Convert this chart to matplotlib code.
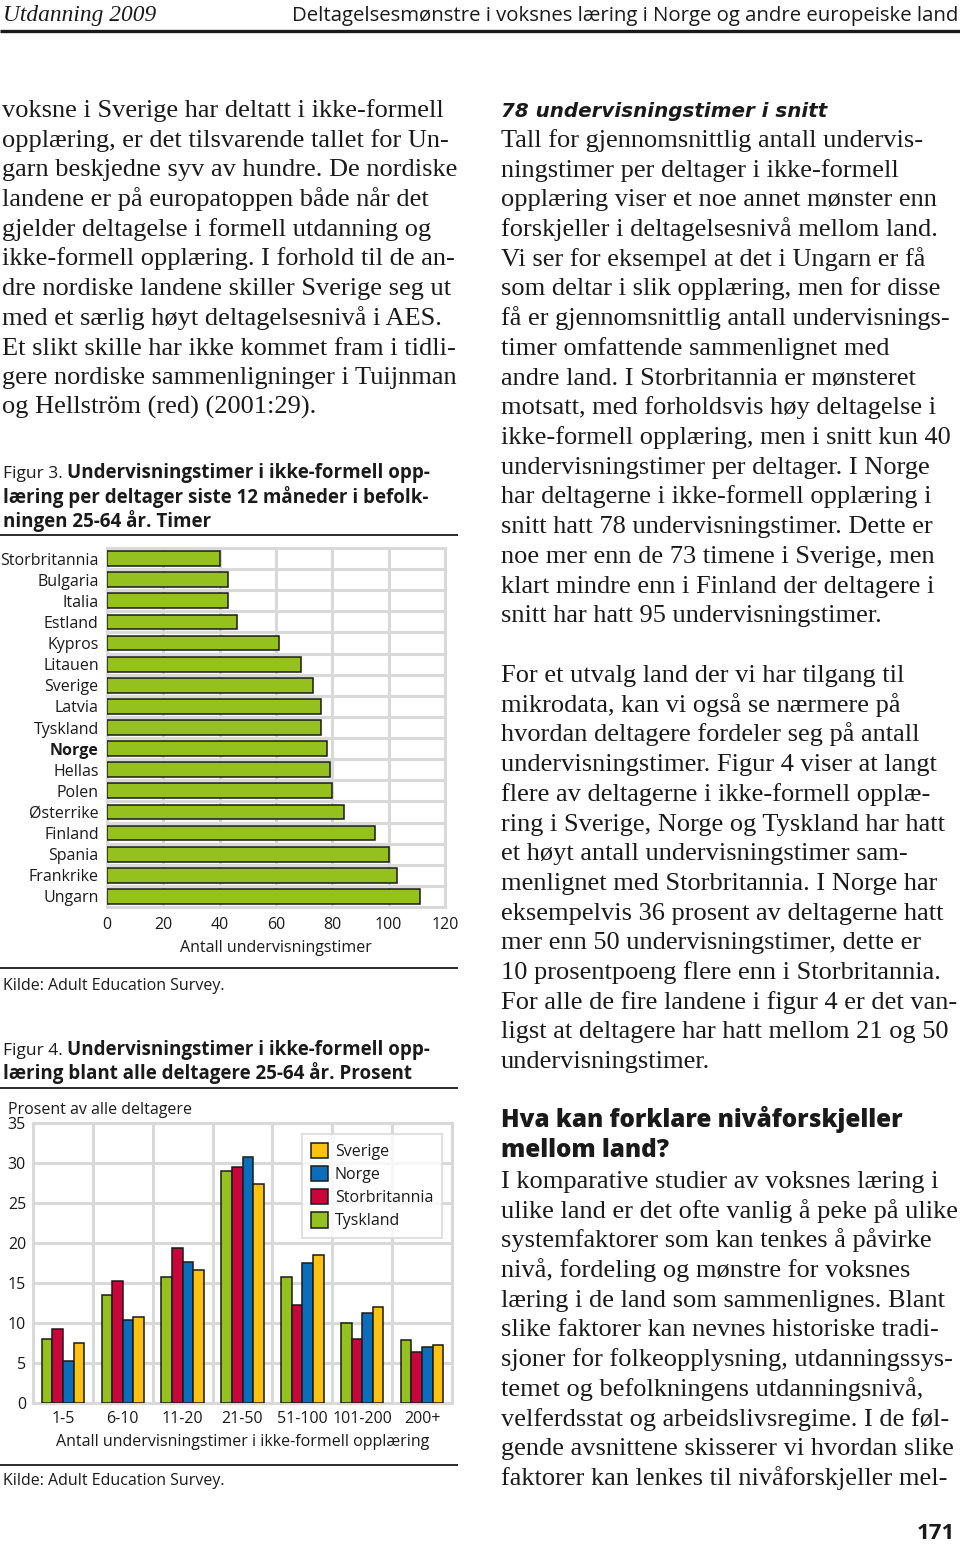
import matplotlib
matplotlib.use('Agg')
import numpy as np
import matplotlib.pyplot as plt
from matplotlib.patches import Patch

SERIF = 'Liberation Serif'
SANS = 'Open Sans'

# Figur 3: gjennomsnittlig antall undervisningstimer per deltager
land3 = ['Storbritannia', 'Bulgaria', 'Italia', 'Estland', 'Kypros', 'Litauen',
         'Sverige', 'Latvia', 'Tyskland', 'Norge', 'Hellas', 'Polen',
         'Østerrike', 'Finland', 'Spania', 'Frankrike', 'Ungarn']
timer3 = [40, 43, 43, 46, 61, 69, 73, 76, 76, 78, 79, 80, 84, 95, 100, 103, 111]

# Figur 4: fordeling av deltagere etter antall timer (prosent)
grupper4 = ['1-5', '6-10', '11-20', '21-50', '51-100', '101-200', '200+']
tyskland4 = [8.0, 13.5, 15.8, 29.0, 15.7, 10.0, 7.9]
storbritannia4 = [9.3, 15.3, 19.4, 29.5, 12.2, 8.0, 6.4]
norge4 = [5.3, 10.4, 17.6, 30.8, 17.5, 11.3, 7.0]
sverige4 = [7.45, 10.8, 16.6, 27.4, 18.5, 12.0, 7.25]

GREEN = '#95C11F'
RED = '#C8063C'
BLUE = '#0A6EBD'
YELLOW = '#FDC20F'
GRID = '#D9D9D9'
INK = '#1a1a1a'

W, H = 960, 1545
fig = plt.figure(figsize=(W / 100, H / 100), dpi=100)
fig.patch.set_facecolor('white')

# page layer in pixel coordinates
page = fig.add_axes([0, 0, 1, 1])
page.set_xlim(0, W)
page.set_ylim(H, 0)
page.axis('off')


def rect(x0, y0, x1, y1):
    return [x0 / W, 1 - y1 / H, (x1 - x0) / W, (y1 - y0) / H]


def body(x, y0, lines, step=29.7):
    for i, ln in enumerate(lines):
        page.text(x, y0 + i * step, ln, family=SERIF, fontsize=19, color=INK,
                  va='baseline', ha='left')


def rule(x0, x1, y, lw=1.3):
    page.plot([x0, x1], [y, y], color=INK, lw=lw, solid_capstyle='butt')


# header
page.text(3, 21, 'Utdanning 2009', family=SERIF, style='italic', fontsize=16.8,
          color=INK, va='baseline')
page.text(958, 21, 'Deltagelsesmønstre i voksnes læring i Norge og andre europeiske land',
          family=SANS, fontsize=14.7, color=INK, va='baseline', ha='right')
rule(0, W, 31, lw=2.4)

# left column text
body(2, 117, [
    'voksne i Sverige har deltatt i ikke-formell',
    'opplæring, er det tilsvarende tallet for Un-',
    'garn beskjedne syv av hundre. De nordiske',
    'landene er på europatoppen både når det',
    'gjelder deltagelse i formell utdanning og',
    'ikke-formell opplæring. I forhold til de an-',
    'dre nordiske landene skiller Sverige seg ut',
    'med et særlig høyt deltagelsesnivå i AES.',
    'Et slikt skille har ikke kommet fram i tidli-',
    'gere nordiske sammenligninger i Tuijnman',
    'og Hellström (red) (2001:29).',
])


def caption(y0, num, lines, step=24.5):
    t = page.text(3, y0, f'Figur {num}. ', family=SANS, fontsize=12.5, color=INK,
                  va='baseline')
    fig.canvas.draw()
    bb = t.get_window_extent()
    page.text(3 + bb.width, y0, lines[0], family=SANS, fontsize=13.5,
              weight='bold', color=INK, va='baseline')
    for i, ln in enumerate(lines[1:], start=1):
        page.text(3, y0 + i * step, ln, family=SANS, fontsize=13.5,
                  weight='bold', color=INK, va='baseline')


caption(478, 3, ['Undervisningstimer i ikke-formell opp-',
                 'læring per deltager siste 12 måneder i befolk-',
                 'ningen 25-64 år. Timer'])
rule(0, 458, 535)

# figure 3
ax1 = fig.add_axes(rect(107, 548, 445, 907))
pos3 = np.arange(len(land3))
ax1.barh(pos3, timer3, height=0.7, color=GREEN, edgecolor=INK, lw=1.1, zorder=3)
ax1.set_xlim(0, 120)
ax1.set_ylim(len(land3) - 0.5, -0.5)
ax1.set_xticks(range(0, 121, 20))
ax1.set_yticks(pos3)
ax1.set_yticklabels(land3)
ax1.set_yticks(np.arange(-0.5, len(land3), 1), minor=True)
ax1.grid(axis='x', which='major', color=GRID, lw=2.2, zorder=0)
ax1.grid(axis='y', which='minor', color=GRID, lw=2.2, zorder=0)
ax1.tick_params(which='both', length=0, labelsize=11.5, colors=INK)
ax1.tick_params(axis='y', pad=6)
ax1.tick_params(axis='x', pad=7)
for s in ax1.spines.values():
    s.set_color(GRID)
    s.set_linewidth(2.2)
for lbl in ax1.get_yticklabels() + ax1.get_xticklabels():
    lbl.set_family(SANS)
    if lbl.get_text() == 'Norge':
        lbl.set_fontweight('bold')
ax1.set_xlabel('Antall undervisningstimer', family=SANS, fontsize=11.5,
               color=INK, labelpad=5)

rule(0, 458, 968)
page.text(3, 990, 'Kilde: Adult Education Survey.', family=SANS, fontsize=11.5,
          color=INK, va='baseline')

caption(1055, 4, ['Undervisningstimer i ikke-formell opp-',
                  'læring blant alle deltagere 25-64 år. Prosent'])
rule(0, 458, 1088)
page.text(8, 1114, 'Prosent av alle deltagere', family=SANS, fontsize=11.5,
          color=INK, va='baseline')

# figure 4
ax2 = fig.add_axes(rect(33, 1123, 452, 1403))
pos4 = np.arange(len(grupper4))
bw = 0.177
series = [('Tyskland', tyskland4, GREEN), ('Storbritannia', storbritannia4, RED),
          ('Norge', norge4, BLUE), ('Sverige', sverige4, YELLOW)]
for i, (name, vals, col) in enumerate(series):
    ax2.bar(pos4 + (i - 1.5) * bw, vals, width=bw, color=col, edgecolor=INK,
            lw=1.1, zorder=3)
ax2.set_xlim(-0.5, len(grupper4) - 0.5)
ax2.set_ylim(0, 35)
ax2.set_yticks(range(0, 36, 5))
ax2.set_xticks(pos4)
ax2.set_xticklabels(grupper4)
ax2.set_xticks(np.arange(-0.5, len(grupper4), 1), minor=True)
ax2.grid(axis='x', which='minor', color=GRID, lw=2.2, zorder=0)
ax2.grid(axis='y', which='major', color=GRID, lw=2.2, zorder=0)
ax2.tick_params(which='both', length=0, labelsize=11.5, colors=INK)
ax2.tick_params(axis='y', pad=5)
ax2.tick_params(axis='x', pad=6)
for s in ax2.spines.values():
    s.set_color(GRID)
    s.set_linewidth(2.2)
for lbl in ax2.get_yticklabels() + ax2.get_xticklabels():
    lbl.set_family(SANS)
ax2.set_xlabel('Antall undervisningstimer i ikke-formell opplæring', family=SANS,
               fontsize=11.5, color=INK, labelpad=5)
handles = [Patch(facecolor=c, edgecolor=INK, lw=1.1, label=n)
           for n, v, c in reversed(series)]
leg = ax2.legend(handles=handles, loc='upper right',
                 bbox_to_anchor=((442 - 33) / 419, (1403 - 1134) / 280),
                 prop={'family': SANS, 'size': 11.5}, frameon=True,
                 fancybox=False, handlelength=1.1, handleheight=1.1,
                 handletextpad=0.4, labelspacing=0.38, borderpad=0.55,
                 borderaxespad=0)
leg.get_frame().set_edgecolor(GRID)
leg.get_frame().set_linewidth(1.5)
for t in leg.get_texts():
    t.set_color(INK)

rule(0, 458, 1465)
page.text(3, 1485, 'Kilde: Adult Education Survey.', family=SANS, fontsize=11.5,
          color=INK, va='baseline')

# right column
page.text(501, 117, '78 undervisningstimer i snitt', family='DejaVu Sans',
          style='italic', weight='bold', fontsize=14.3, color=INK, va='baseline')
body(501, 147, [
    'Tall for gjennomsnittlig antall undervis-',
    'ningstimer per deltager i ikke-formell',
    'opplæring viser et noe annet mønster enn',
    'forskjeller i deltagelsesnivå mellom land.',
    'Vi ser for eksempel at det i Ungarn er få',
    'som deltar i slik opplæring, men for disse',
    'få er gjennomsnittlig antall undervisnings-',
    'timer omfattende sammenlignet med',
    'andre land. I Storbritannia er mønsteret',
    'motsatt, med forholdsvis høy deltagelse i',
    'ikke-formell opplæring, men i snitt kun 40',
    'undervisningstimer per deltager. I Norge',
    'har deltagerne i ikke-formell opplæring i',
    'snitt hatt 78 undervisningstimer. Dette er',
    'noe mer enn de 73 timene i Sverige, men',
    'klart mindre enn i Finland der deltagere i',
    'snitt har hatt 95 undervisningstimer.',
])
body(501, 682, [
    'For et utvalg land der vi har tilgang til',
    'mikrodata, kan vi også se nærmere på',
    'hvordan deltagere fordeler seg på antall',
    'undervisningstimer. Figur 4 viser at langt',
    'flere av deltagerne i ikke-formell opplæ-',
    'ring i Sverige, Norge og Tyskland har hatt',
    'et høyt antall undervisningstimer sam-',
    'menlignet med Storbritannia. I Norge har',
    'eksempelvis 36 prosent av deltagerne hatt',
    'mer enn 50 undervisningstimer, dette er',
    '10 prosentpoeng flere enn i Storbritannia.',
    'For alle de fire landene i figur 4 er det van-',
    'ligst at deltagere har hatt mellom 21 og 50',
    'undervisningstimer.',
])
page.text(501, 1127, 'Hva kan forklare nivåforskjeller', family=SANS, weight='heavy',
          fontsize=17.5, color=INK, va='baseline')
page.text(501, 1157, 'mellom land?', family=SANS, weight='heavy',
          fontsize=17.5, color=INK, va='baseline')
body(501, 1188, [
    'I komparative studier av voksnes læring i',
    'ulike land er det ofte vanlig å peke på ulike',
    'systemfaktorer som kan tenkes å påvirke',
    'nivå, fordeling og mønstre for voksnes',
    'læring i de land som sammenlignes. Blant',
    'slike faktorer kan nevnes historiske tradi-',
    'sjoner for folkeopplysning, utdanningssys-',
    'temet og befolkningens utdanningsnivå,',
    'velferdsstat og arbeidslivsregime. I de føl-',
    'gende avsnittene skisserer vi hvordan slike',
    'faktorer kan lenkes til nivåforskjeller mel-',
])
page.text(955, 1539, '171', family=SANS, weight='bold', fontsize=16,
          color=INK, va='baseline', ha='right')

fig.savefig('out.png', dpi=100, facecolor='white')
